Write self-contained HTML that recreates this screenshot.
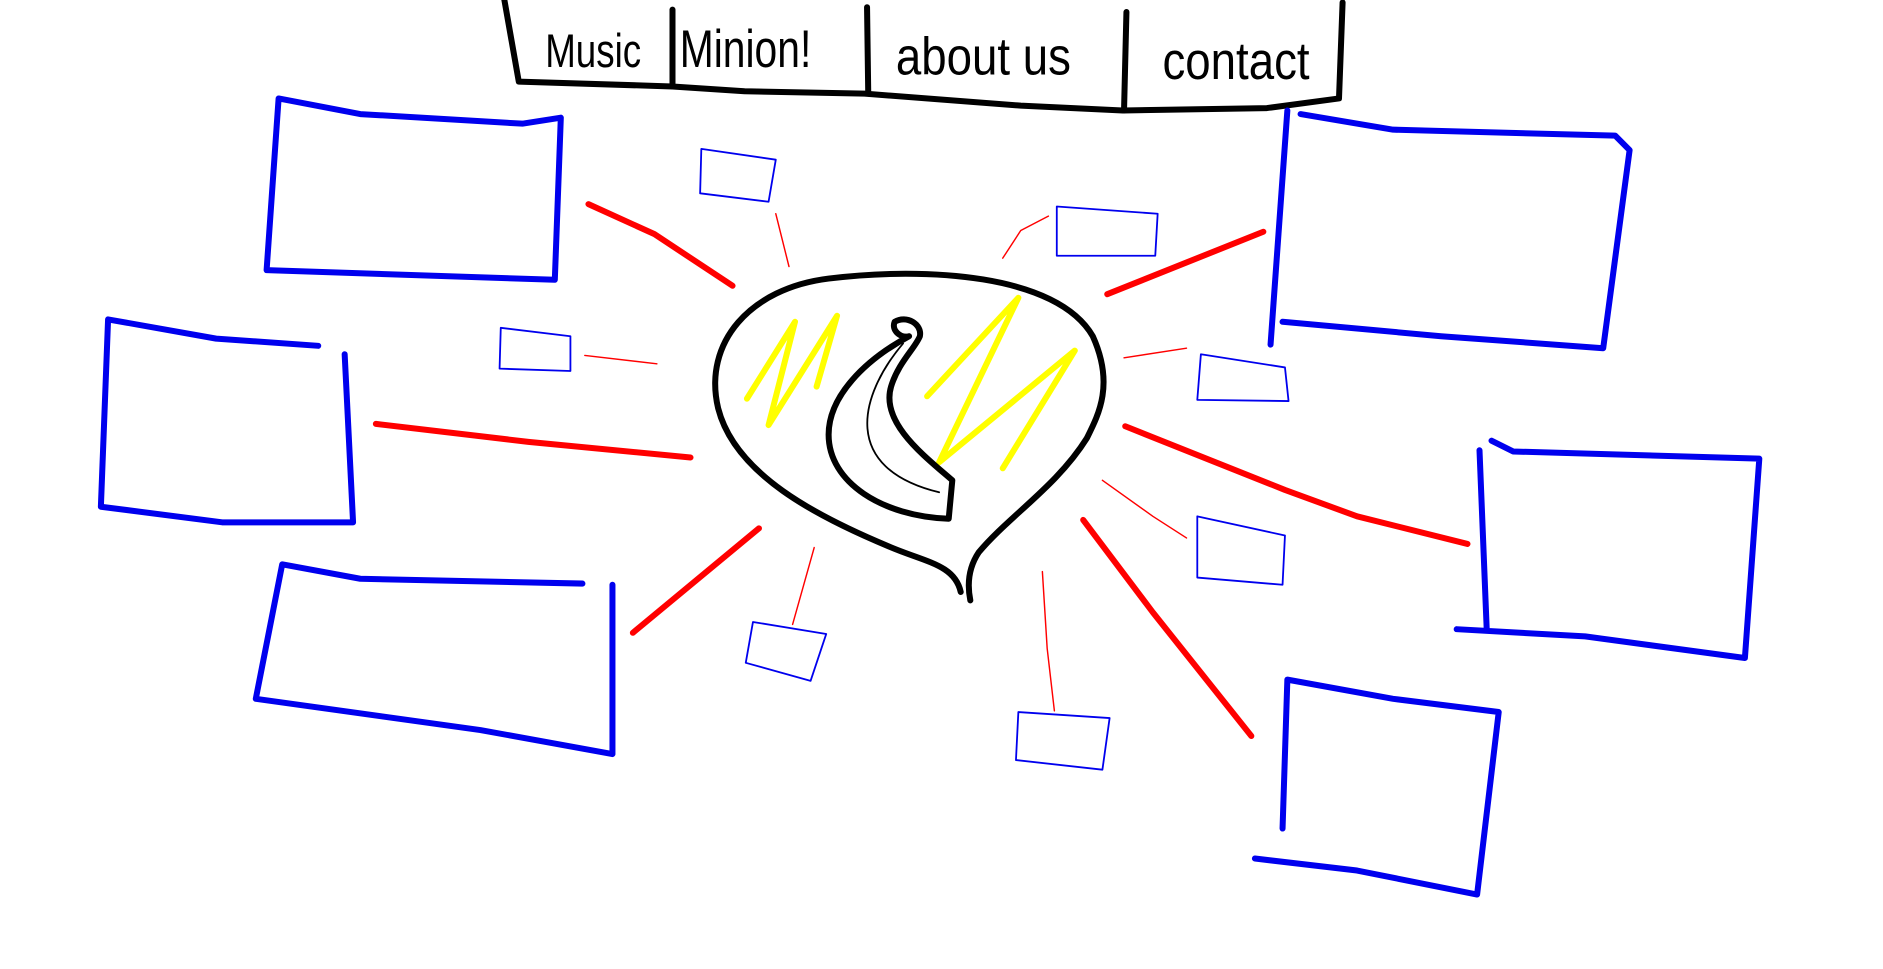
<!DOCTYPE html>
<html><head><meta charset="utf-8"><style>
html,body{margin:0;padding:0;background:#fff;width:1883px;height:969px;overflow:hidden}
svg{display:block}
text{font-family:"Liberation Sans Narrow","Liberation Sans",sans-serif;font-size:36px;fill:#000}
</style></head><body>
<svg width="1883" height="969" viewBox="0 0 1568 807" preserveAspectRatio="none" fill="none" stroke-linecap="round" stroke-linejoin="round">
<g stroke="#000" stroke-width="5">
<path d="M420,0 L432,68 L560,72 L620,76 L720,78 L850,88 L935,92 L1055,90 L1115,82 L1118,2"/>
<path d="M560,8 L560,72"/><path d="M722,6 L723,78"/><path d="M938,10 L936,92"/>
</g>
<text x="454" y="56" transform="translate(454,56) scale(0.85,1.1) translate(-454,-56)">Music</text>
<text x="566" y="56" style="font-size:40px" transform="translate(566,56) scale(0.85,1.1) translate(-566,-56)">Minion!</text>
<text x="746" y="62" style="font-size:40px" transform="translate(746,62) scale(0.95,1.1) translate(-746,-62)">about us</text>
<text x="968" y="66" style="font-size:40px" transform="translate(968,66) scale(0.95,1.1) translate(-968,-66)">contact</text>

<g stroke="#0000ee" stroke-width="5">
<path d="M232,82 L300,95 L435,103 L467,98 L462,233 L222,225 Z"/>
<path d="M265,288 L180,282 L90,266 L84,422 L185,435 L294,435 L287,295"/>
<path d="M485,486 L300,482 L235,470 L213,582 L400,608 L510,628 L510,487"/>
<path d="M1072,92 L1058,287 M1083,95 L1160,108 L1345,113 L1357,125 L1335,290 L1200,280 L1068,268"/>
<path d="M1242,367 L1260,376 L1465,382 L1453,548 L1320,530 L1213,524 M1232,375 L1238,524"/>
<path d="M1068,690 L1072,566 L1160,582 L1248,593 L1230,745 L1130,725 L1045,715"/>
</g>
<g stroke="#ff0000" stroke-width="5">
<path d="M490,170 L545,195 L610,238"/>
<path d="M313,353 L440,368 L575,381"/>
<path d="M632,440 L527,527"/>
<path d="M922,245 L1052,193"/>
<path d="M937,355 L1070,408 L1130,430 L1222,453"/>
<path d="M902,433 L960,510 L1042,613"/>
</g>
<g stroke="#ff0000" stroke-width="1.2">
<path d="M646,178 L657,222"/><path d="M487,296 L547,303"/><path d="M678,456 L660,520"/>
<path d="M835,215 L850,192 L873,180"/><path d="M936,298 L988,290"/>
<path d="M918,400 L960,430 L988,448"/><path d="M868,476 L872,540 L878,592"/>
</g>
<g stroke="#0000ee" stroke-width="1.5">
<path d="M584,124 L646,133 L640,168 L583,161 Z"/>
<path d="M417,273 L475,280 L475,309 L416,307 Z"/>
<path d="M627,518 L688,528 L675,567 L621,552 Z"/>
<path d="M880,172 L964,178 L962,213 L880,213 Z"/>
<path d="M1000,295 L1070,306 L1073,334 L997,333 Z"/>
<path d="M997,430 L1070,446 L1068,487 L997,481 Z"/>
<path d="M848,593 L924,598 L918,641 L846,633 Z"/>
</g>
<g>
<path stroke="#000" stroke-width="5" d="M800,493 C795,470 770,468 740,455 C680,430 612,395 598,340 C585,285 625,240 690,232 C770,222 880,228 910,280 C928,320 915,345 905,365 C880,405 840,430 815,460 C805,475 806,490 808,500"/>
<path stroke="#ffff00" stroke-width="5" d="M622,332 L662,268 L640,354 L697,263 L680,322"/>
<path stroke="#ffff00" stroke-width="5" d="M772,330 L848,248 L782,385 L895,292 L835,390"/>
<path stroke="#000" stroke-width="5" d="M757,280 C720,300 690,330 690,362 C690,402 735,430 790,432 L793,400 C770,380 733,352 742,322 C748,302 762,290 766,280 C768,270 755,262 745,268 C742,275 750,282 757,280"/>
<path stroke="#000" stroke-width="1.5" d="M752,286 C715,330 700,390 782,410"/>
</g>
</svg>
</body></html>
